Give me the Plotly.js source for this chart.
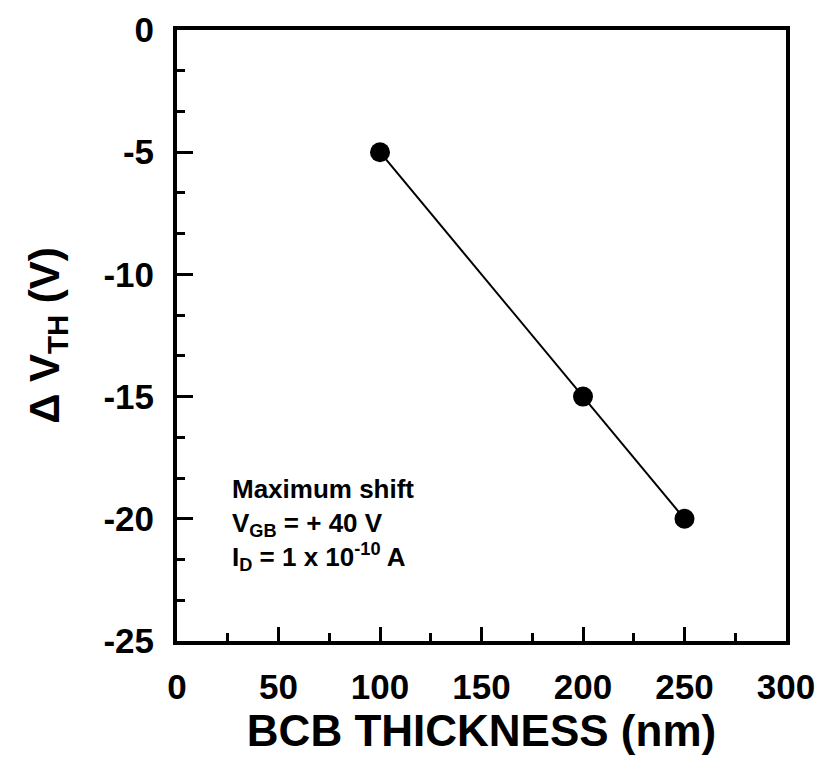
<!DOCTYPE html>
<html>
<head>
<meta charset="utf-8">
<script src="https://cdn.plot.ly/plotly-3.0.1.min.js"></script>
<style>html,body{margin:0;padding:0;background:#fff;}#chart{width:821px;height:770px;}</style>
</head>
<body>
<div id="chart"></div>
<script>
// Data
const bcbThickness = [100, 200, 250];          // nm
const deltaVth = [-5, -15, -20];               // V
const xTickVals = [0, 50, 100, 150, 200, 250, 300];
const xTickText = ['0', '50', '100', '150', '200', '250', '300'];
const yTickVals = [0, -5, -10, -15, -20, -25];
const yTickText = ['0', '-5', '-10', '-15', '-20', '-25'];
const noteLines = ['Maximum shift', 'V<sub>GB</sub> = + 40 V', 'I<sub>D</sub> = 1 x 10<sup>-10</sup> A'];

const FONT = '"Liberation Sans", Arial, sans-serif';

const trace = {
  x: bcbThickness,
  y: deltaVth,
  mode: 'lines+markers',
  type: 'scatter',
  line: {color: '#000', width: 2},
  marker: {color: '#000', size: 20, symbol: 'circle'},
  showlegend: false,
  hoverinfo: 'skip'
};

const layout = {
  width: 821,
  height: 770,
  margin: {l: 177, r: 35, t: 30, b: 129},
  paper_bgcolor: '#fff',
  plot_bgcolor: '#fff',
  font: {family: FONT, color: '#000'},
  xaxis: {
    range: [0, 300],
    showline: true, linecolor: '#000', linewidth: 4, mirror: true,
    showgrid: false, zeroline: false,
    ticks: 'inside', ticklen: 14, tickwidth: 3, tickcolor: '#000',
    tickmode: 'array', tickvals: xTickVals, ticktext: xTickText,
    minor: {dtick: 25, tick0: 0, ticks: 'inside', ticklen: 8, tickwidth: 3, tickcolor: '#000', showgrid: false},
    tickfont: {family: FONT, size: 35, weight: 'bold', color: '#000'},
    ticklabelstandoff: 12,
    title: {text: '<b>BCB THICKNESS (nm)</b>', font: {family: FONT, size: 44, color: '#000'}, standoff: 0}
  },
  yaxis: {
    range: [-25, 0],
    showline: true, linecolor: '#000', linewidth: 4, mirror: true,
    showgrid: false, zeroline: false,
    ticks: 'inside', ticklen: 16, tickwidth: 3, tickcolor: '#000',
    tickmode: 'array', tickvals: yTickVals, ticktext: yTickText,
    minor: {dtick: 5/3, tick0: 0, ticks: 'inside', ticklen: 8, tickwidth: 3, tickcolor: '#000', showgrid: false},
    tickfont: {family: FONT, size: 35, weight: 'bold', color: '#000'},
    ticklabelstandoff: 12,
    title: {text: '<b>\u0394 V<sub>TH</sub> (V)</b>', font: {family: FONT, size: 42, color: '#000'}, standoff: 32}
  },
  annotations: [{
    xref: 'x', yref: 'y', x: 26, y: -18.1,
    xanchor: 'left', yanchor: 'top', align: 'left',
    showarrow: false,
    text: '<b>' + noteLines.join('<br>') + '</b>',
    font: {family: FONT, size: 26, color: '#000'}
  }]
};

Plotly.newPlot('chart', [trace], layout, {staticPlot: true, displayModeBar: false});
</script>
</body>
</html>
